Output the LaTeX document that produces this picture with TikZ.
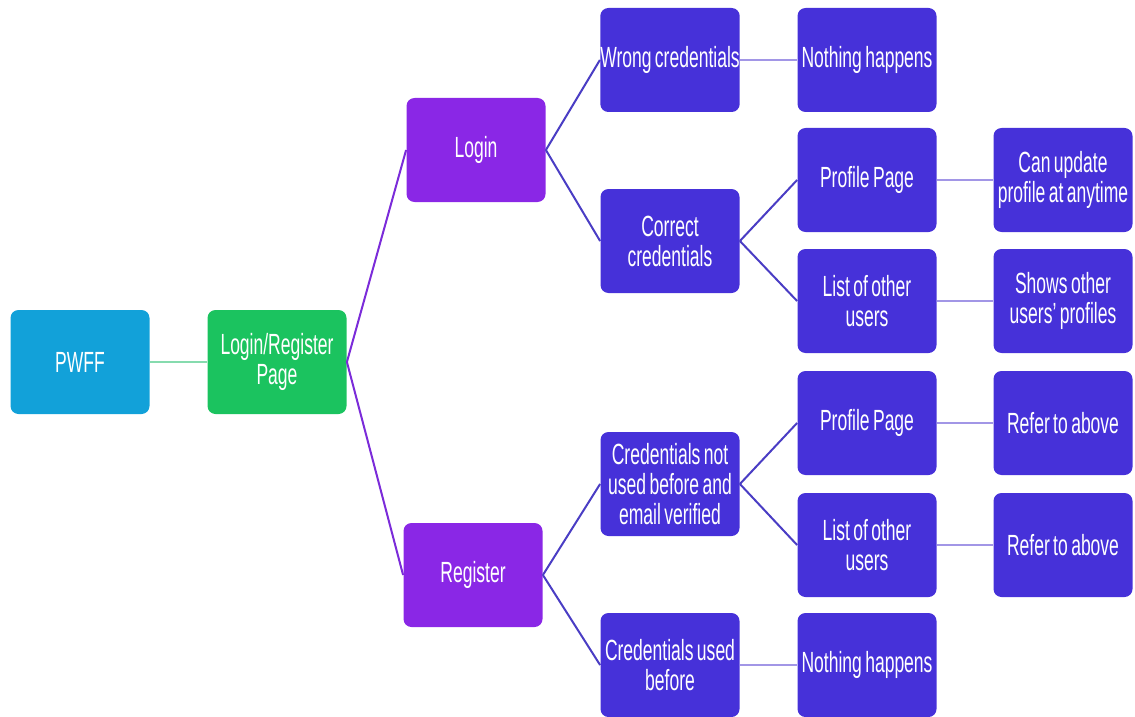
\documentclass[tikz,border=0pt]{standalone}
\usepackage{fontspec}
\setmainfont{Liberation Sans}[FakeStretch=0.6,WordSpace=0.7]
\usepackage{tikz}

\definecolor{pwffblue}{HTML}{12A1D9}
\definecolor{pagegreen}{HTML}{1BC35F}
\definecolor{actpurple}{HTML}{8A27E6}
\definecolor{stepindigo}{HTML}{4631D9}
\definecolor{greenline}{HTML}{86DBAE}
\definecolor{purpleline}{HTML}{7B2BD9}
\definecolor{indigoline}{HTML}{4A3DC4}
\definecolor{leafline}{HTML}{A296E6}

\begin{document}
\begin{tikzpicture}[x=0.5pt,y=-0.5pt]
\tikzstyle{box}=[rounded corners=4pt,minimum width=69.5pt,minimum height=52pt,align=center,text=white,font=\fontsize{14.6}{15}\selectfont,inner sep=0pt];
\tikzstyle{rootbox}=[box,fill=pwffblue];
\tikzstyle{pagebox}=[box,fill=pagegreen];
\tikzstyle{actbox}=[box,fill=actpurple];
\tikzstyle{stepbox}=[box,fill=stepindigo];
\tikzstyle{link}=[line width=1pt];
\tikzstyle{leaflink}=[line width=1.3pt,leafline];
\useasboundingbox (0,0) rectangle (1135,717);

\node[rootbox] (pwff) at (80,362) {PWFF};
\node[pagebox] (page) at (277,362) {Login/Register\\Page};
\node[actbox] (login) at (476,150) {Login};
\node[actbox] (register) at (473,575) {Register};

\node[stepbox] (wrong) at (670,60) {Wrong credentials};
\node[stepbox] (wrongres) at (867,60) {Nothing happens};
\node[stepbox] (correct) at (670,241) {Correct\\credentials};
\node[stepbox] (profile) at (867,180) {Profile Page};
\node[stepbox] (update) at (1063,180) {Can update\\profile at anytime};
\node[stepbox] (list) at (867,301) {List of other\\users};
\node[stepbox] (shows) at (1063,301) {Shows other\\users' profiles};

\node[stepbox] (newcred) at (670,484) {Credentials not\\used before and\\email verified};
\node[stepbox] (profiletwo) at (867,423) {Profile Page};
\node[stepbox] (refertop) at (1063,423) {Refer to above};
\node[stepbox] (listtwo) at (867,545) {List of other\\users};
\node[stepbox] (referbot) at (1063,545) {Refer to above};
\node[stepbox] (usedcred) at (670,665) {Credentials used\\before};
\node[stepbox] (usedres) at (867,665) {Nothing happens};

\draw[line width=1.3pt,greenline] (pwff.east) -- (page.west);
\draw[link,purpleline] (page.east) -- (login.west);
\draw[link,purpleline] (page.east) -- (register.west);
\draw[link,indigoline] (login.east) -- (wrong.west);
\draw[link,indigoline] (login.east) -- (correct.west);
\draw[link,indigoline] (correct.east) -- (profile.west);
\draw[link,indigoline] (correct.east) -- (list.west);
\draw[link,indigoline] (register.east) -- (newcred.west);
\draw[link,indigoline] (register.east) -- (usedcred.west);
\draw[link,indigoline] (newcred.east) -- (profiletwo.west);
\draw[link,indigoline] (newcred.east) -- (listtwo.west);
\draw[leaflink] (wrong.east) -- (wrongres.west);
\draw[leaflink] (profile.east) -- (update.west);
\draw[leaflink] (list.east) -- (shows.west);
\draw[leaflink] (profiletwo.east) -- (refertop.west);
\draw[leaflink] (listtwo.east) -- (referbot.west);
\draw[leaflink] (usedcred.east) -- (usedres.west);
\end{tikzpicture}
\end{document}
